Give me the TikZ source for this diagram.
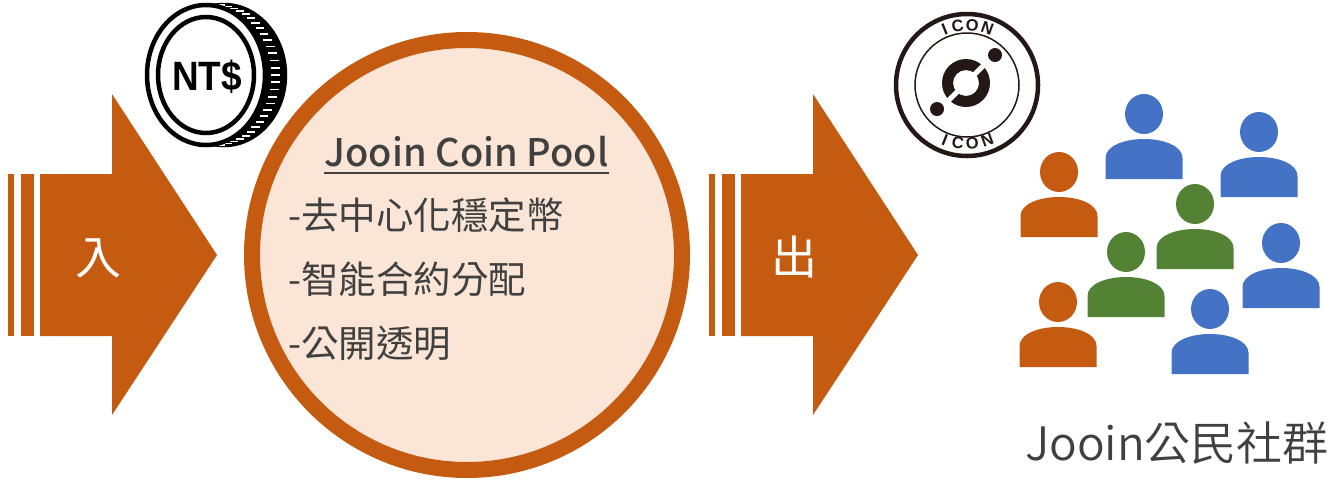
\documentclass[tikz,border=0pt]{standalone}
\usepackage{fontspec}
\setmainfont{Noto Sans CJK TC}
\newfontfamily\titlefont{Noto Sans CJK TC Medium}
\newfontfamily\lightfont{Noto Sans CJK TC DemiLight}
\newfontfamily\coinfont{Liberation Sans}

\definecolor{rust}{HTML}{C55A11}
\definecolor{peach}{HTML}{FBE5D6}
\definecolor{ppblue}{HTML}{4472C4}
\definecolor{ppgreen}{HTML}{548235}
\definecolor{ink}{HTML}{404040}
\definecolor{coinink}{HTML}{231815}

\tikzset{
  % block arrow with three stripes at its tail; origin = tail, mid height
  blockarrow/.pic={
    \fill[rust] (0,-81) rectangle (6,81);
    \fill[rust] (13,-81) rectangle (26,81);
    \fill[rust] (32,-81) -- (104,-81) -- (104,-161) -- (209,0)
                -- (104,160) -- (104,81) -- (32,81) -- cycle;
  },
  % person glyph; origin = head centre
  person/.pic={
    \fill[#1] (0,0) ellipse[x radius=19, y radius=20];
    \fill[#1] (-38.5,65) -- (-38.5,44) .. controls (-38.5,32) and (-20,25) .. (0,25)
              .. controls (20,25) and (38.5,32) .. (38.5,44) -- (38.5,65) -- cycle;
  },
  arrowlabel/.style={text=white, font=\fontsize{46}{46}\selectfont, anchor=base, inner sep=0},
  poolitem/.style={text=ink, font=\fontsize{37.5}{37.5}\selectfont, anchor=base west, inner sep=0},
  coinletter/.style={text=coinink, font=\coinfont\bfseries\fontsize{16.5}{16.5}\selectfont, inner sep=0},
}

\begin{document}
\begin{tikzpicture}[x=1pt,y=-1pt]
\useasboundingbox (0,0) rectangle (1344,483);

% inflow and outflow arrows
\pic at (8,255) {blockarrow};
\pic at (709,255) {blockarrow};
\node[arrowlabel] (inlabel) at (98,274) {入};
\node[arrowlabel] (outlabel) at (794,274) {出};

% NT$ coin: reeded edge behind, face in front
\fill[black] (206,5) -- (224,5) arc[start angle=-90, end angle=90, x radius=61, y radius=70]
             -- (206,145) -- cycle;
\draw[black, line width=4.5] (224,75) ellipse[x radius=61, y radius=70];
\foreach \t in {-84,-78,...,84} {
  \draw[white, line width=1.8]
    ({206+59*cos(\t)+6},{75+70*sin(\t)}) -- ({224+61*cos(\t)-5},{75+70*sin(\t)});
}
\draw[black, line width=4.5, fill=white] (206,75) ellipse[x radius=59, y radius=70];
\draw[black, line width=4.5] (206,75) ellipse[x radius=48, y radius=58];
\node[font=\coinfont\bfseries\fontsize{41}{41}\selectfont, anchor=base, inner sep=0, xscale=0.9]
  (ntd) at (207,90) {NT\$};

% coin pool
\node[circle, draw=rust, line width=16, fill=peach, minimum size=430, inner sep=0] (pool) at (467,255) {};
\node[text=ink, font=\titlefont\fontsize{38}{38}\selectfont, anchor=base, inner sep=0]
  (title) at (466.5,166) {Jooin Coin Pool};
\draw[ink, line width=2.5] ([yshift=-7pt]title.base west) -- ([yshift=-7pt]title.base east);
\node[poolitem] (item1) at (288,229.5) {-去中心化穩定幣};
\node[poolitem] (item2) at (288,293.5) {-智能合約分配};
\node[poolitem] (item3) at (288,357.5) {-公開透明};

% ICON coin
\begin{scope}[shift={(967,85)}, y=1pt]
  \draw[coinink, line width=4.5] (0,0) circle[radius=71];
  \draw[coinink, line width=1.5] (0,0) circle[radius=52];
  \fill[coinink, even odd rule] (-1,2) circle[radius=24] circle[radius=13];
  \draw[white, line width=5] (-1,2) ++(45:30) -- ++(225:60);
  \fill[coinink] (28,30) circle[radius=7];
  \fill[coinink] (-30,-24) circle[radius=7];
  % lettering round the rim
  \node[coinletter, rotate=22]  (ta) at (112:60) {I};
  \node[coinletter, rotate=9]   (tb) at (99:60)  {C};
  \node[coinletter, rotate=-5]  (tc) at (85:60)  {O};
  \node[coinletter, rotate=-20] (td) at (70:60)  {N};
  \node[coinletter, rotate=-22] (ba) at (248:59) {I};
  \node[coinletter, rotate=-9]  (bb) at (261:59) {C};
  \node[coinletter, rotate=5]   (bc) at (275:59) {O};
  \node[coinletter, rotate=20]  (bd) at (290:59) {N};
\end{scope}

% community
\pic at (1144,114) {person=ppblue};
\pic at (1259,132) {person=ppblue};
\pic at (1059,172) {person=rust};
\pic at (1195,204) {person=ppgreen};
\pic at (1126,252) {person=ppgreen};
\pic at (1281,243) {person=ppblue};
\pic at (1058,302) {person=rust};
\pic at (1210,309) {person=ppblue};
\node[text=ink, font=\lightfont\fontsize{46}{46}\selectfont, anchor=base, inner sep=0]
  (community) at (1177,460) {Jooin公民社群};
\end{tikzpicture}
\end{document}
